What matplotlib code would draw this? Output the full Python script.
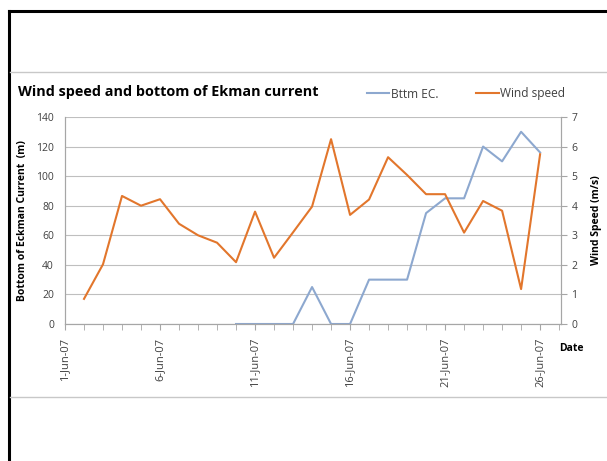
import numpy as np
import matplotlib.pyplot as plt
from matplotlib.lines import Line2D

plt.rcParams['font.family'] = ['Open Sans', 'DejaVu Sans']

# day of June 2007
wind_days = list(range(2, 27))
wind_speed = [0.85, 2.02, 4.33, 4.0, 4.22, 3.39, 3.0, 2.75, 2.09, 3.8, 2.24, 3.1,
              3.97, 6.25, 3.69, 4.21, 5.64, 5.04, 4.39, 4.39, 3.09, 4.16, 3.83, 1.18, 5.74]

ec_days = list(range(10, 27))
bttm_ec = [0, 0, 0, 0, 25, 0, 0, 30, 30, 30, 75, 85, 85, 120, 110, 130, 116]

tick_days = [1, 6, 11, 16, 21, 26]
tick_labels = ['1-Jun-07', '6-Jun-07', '11-Jun-07', '16-Jun-07', '21-Jun-07', '26-Jun-07']

orange = '#E2762C'
blue = '#8DA8CF'
grey = '#A6A6A6'
txt = '#404040'

fig = plt.figure(figsize=(6.07, 4.61), dpi=100)

# frame lines of the screenshot
fig.add_artist(Line2D([9/607, 9/607], [0, 1 - 11/461], color='black', lw=2.2))
fig.add_artist(Line2D([9/607, 1], [1 - 11/461, 1 - 11/461], color='black', lw=2.2))
fig.add_artist(Line2D([10/607, 1], [1 - 72/461, 1 - 72/461], color='#C8C8C8', lw=1))
fig.add_artist(Line2D([10/607, 1], [1 - 397/461, 1 - 397/461], color='#C8C8C8', lw=1))

ax = fig.add_axes([65/607, 1 - 324/461, (561 - 65)/607, (324 - 117)/461])
ax2 = ax.twinx()

ax.plot(ec_days, bttm_ec, color=blue, lw=1.5)
ax2.plot(wind_days, wind_speed, color=orange, lw=1.5)

ax.set_xlim(1, 27.1)
ax.set_ylim(0, 140)
ax2.set_ylim(0, 7)
ax.set_yticks(np.arange(0, 141, 20))
ax2.set_yticks(np.arange(0, 8, 1))
ax.yaxis.grid(True, color='#BFBFBF', lw=0.8)
ax.set_axisbelow(True)

ax.set_xticks(tick_days)
ax.set_xticklabels(tick_labels, rotation=90, va='top', ha='center')
ax.set_xticks(range(1, 28), minor=True)
ax.tick_params(axis='x', which='both', length=4, color=grey, labelsize=8, labelcolor=txt, pad=6)
ax.tick_params(axis='y', length=0, labelsize=7.5, labelcolor=txt, pad=8)
ax2.tick_params(axis='y', length=4, color=grey, labelsize=7.5, labelcolor=txt)

for a in (ax, ax2):
    a.spines['top'].set_visible(False)
    a.spines['left'].set_color(grey)
    a.spines['right'].set_color(grey)
    a.spines['bottom'].set_color(grey)

ax.set_ylabel('Bottom of Eckman Current  (m)', fontsize=7.5, fontweight='bold', labelpad=6)
ax2.set_ylabel('Wind Speed (m/s)', fontsize=7.5, fontweight='bold', labelpad=10)

fig.text(18/607, 1 - 92/461, 'Wind speed and bottom of Ekman current', fontsize=10.4,
         fontweight='bold', va='center', ha='left')
fig.text(559/607, 1 - 348/461, 'Date', fontsize=7.5, fontweight='bold', va='center', ha='left')

handles = [Line2D([], [], color=blue, lw=1.5), Line2D([], [], color=orange, lw=1.5)]
fig.legend(handles, ['Bttm EC.', 'Wind speed'], loc='center left',
           bbox_to_anchor=(356/607, 1 - 94/461), ncol=2, frameon=False, fontsize=8.6,
           handlelength=1.9, handletextpad=0.1, columnspacing=3.2, labelcolor=txt)

fig.savefig('out.png', dpi=100)
